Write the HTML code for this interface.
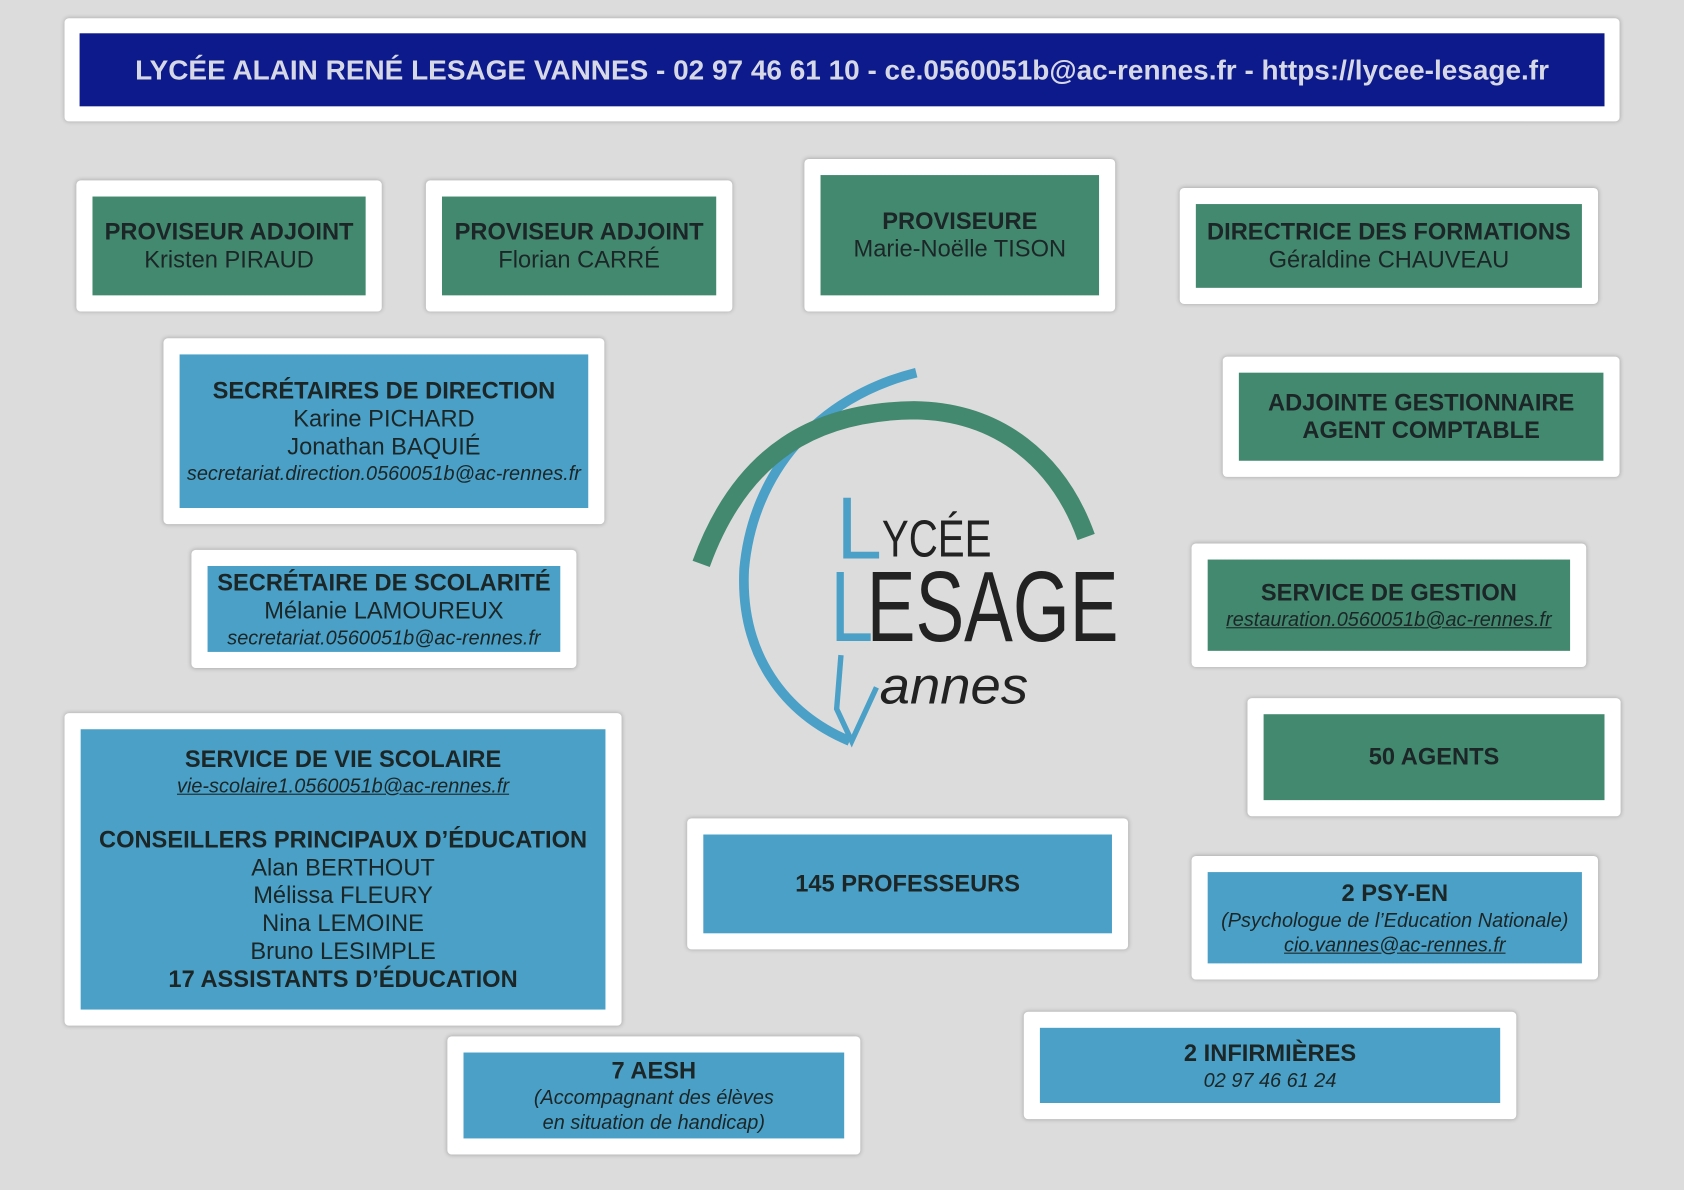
<!DOCTYPE html>
<html><head><meta charset="utf-8"><style>
html,body{margin:0;padding:0;background:#dcdcdc;width:1684px;height:1190px;overflow:hidden}
#w{position:absolute;left:0;top:0;width:1566px;height:1108px;transform:scale(1.0754,1.074);transform-origin:0 0;font-family:"Liberation Sans",Arial,sans-serif;color:#1c2626}
.o{position:absolute;background:#fff;border-radius:4px;box-shadow:0 0 4px rgba(0,0,0,.25)}
.i{position:absolute;left:15px;top:15px;right:15px;bottom:15px;display:flex;flex-direction:column;justify-content:center;align-items:center;text-align:center;font-size:22px;line-height:26px;white-space:nowrap}
.g{background:#42896f}.b{background:#4aa0c7}
b{font-weight:bold}
.e{font-style:italic;font-size:18.5px;line-height:23px}
.u{text-decoration:underline}
</style></head><body><div id="w">
<div class="o" style="left:60px;top:17px;width:1446px;height:96px"><div class="i" style="left:14px;top:14px;right:14px;bottom:14px;background:#0c1a8c;color:#d6d8e6;font-weight:bold;font-size:26px">LYCÉE ALAIN RENÉ LESAGE VANNES - 02 97 46 61 10 - ce.0560051b@ac-rennes.fr - https://lycee-lesage.fr</div></div>

<div class="o" style="left:71px;top:168px;width:284px;height:122px"><div class="i g"><b>PROVISEUR ADJOINT</b>Kristen PIRAUD</div></div>
<div class="o" style="left:396px;top:168px;width:285px;height:122px"><div class="i g"><b>PROVISEUR ADJOINT</b>Florian CARRÉ</div></div>
<div class="o" style="left:748px;top:148px;width:289px;height:142px"><div class="i g" style="justify-content:flex-start;padding-top:30px"><b>PROVISEURE</b>Marie-Noëlle TISON</div></div>
<div class="o" style="left:1097px;top:175px;width:389px;height:108px"><div class="i g"><b>DIRECTRICE DES FORMATIONS</b>Géraldine CHAUVEAU</div></div>

<div class="o" style="left:152px;top:315px;width:410px;height:173px"><div class="i b"><b>SECRÉTAIRES DE DIRECTION</b>Karine PICHARD<br>Jonathan BAQUIÉ<span class="e">secretariat.direction.0560051b@ac-rennes.fr</span></div></div>
<div class="o" style="left:1137px;top:332px;width:369px;height:112px"><div class="i g"><b>ADJOINTE GESTIONNAIRE<br>AGENT COMPTABLE</b></div></div>
<div class="o" style="left:178px;top:512px;width:358px;height:110px"><div class="i b"><b>SECRÉTAIRE DE SCOLARITÉ</b>Mélanie LAMOUREUX<span class="e">secretariat.0560051b@ac-rennes.fr</span></div></div>
<div class="o" style="left:1108px;top:506px;width:367px;height:115px"><div class="i g"><b>SERVICE DE GESTION</b><span class="e u">restauration.0560051b@ac-rennes.fr</span></div></div>

<div class="o" style="left:60px;top:664px;width:518px;height:291px"><div class="i b"><b>SERVICE DE VIE SCOLAIRE</b><span class="e u">vie-scolaire1.0560051b@ac-rennes.fr</span><br><b>CONSEILLERS PRINCIPAUX D’ÉDUCATION</b>Alan BERTHOUT<br>Mélissa FLEURY<br>Nina LEMOINE<br>Bruno LESIMPLE<br><b>17 ASSISTANTS D’ÉDUCATION</b></div></div>
<div class="o" style="left:1160px;top:650px;width:347px;height:110px"><div class="i g"><b>50 AGENTS</b></div></div>
<div class="o" style="left:639px;top:762px;width:410px;height:122px"><div class="i b"><b>145 PROFESSEURS</b></div></div>
<div class="o" style="left:1108px;top:797px;width:378px;height:115px"><div class="i b"><b>2 PSY-EN</b><span class="e">(Psychologue de l’Education Nationale)</span><span class="e u">cio.vannes@ac-rennes.fr</span></div></div>
<div class="o" style="left:952px;top:942px;width:458px;height:100px"><div class="i b"><b>2 INFIRMIÈRES</b><span class="e">02 97 46 61 24</span></div></div>
<div class="o" style="left:416px;top:965px;width:384px;height:110px"><div class="i b"><b>7 AESH</b><span class="e">(Accompagnant des élèves<br>en situation de handicap)</span></div></div>

<svg style="position:absolute;left:0;top:0" width="1566" height="1108">
<path d="M852,347 C760,370 700,440 692,530 C688,610 730,665 790,690" fill="none" stroke="#4aa0c7" stroke-width="9"/>
<path d="M652,525 C690,420 760,383 850,382 C930,383 985,430 1010,500" fill="none" stroke="#42896f" stroke-width="17"/>
<text x="778" y="520" font-size="82" fill="#4aa0c7" font-family="Liberation Sans" textLength="42" lengthAdjust="spacingAndGlyphs">L</text>
<text x="820" y="518" font-size="48" fill="#222" font-family="Liberation Sans" textLength="102" lengthAdjust="spacingAndGlyphs">YCÉE</text>
<text x="772" y="597" font-size="93" fill="#4aa0c7" font-family="Liberation Sans" textLength="40" lengthAdjust="spacingAndGlyphs">L</text>
<text x="806" y="597" font-size="93" fill="#222" font-family="Liberation Sans" textLength="234" lengthAdjust="spacingAndGlyphs">ESAGE</text>
<path d="M782,610 L778,660 L792,690 L815,640" fill="none" stroke="#4aa0c7" stroke-width="5"/>
<text x="818" y="655" font-size="48" font-style="italic" fill="#222" font-family="Liberation Sans" textLength="138" lengthAdjust="spacingAndGlyphs">annes</text>
</svg>
</div></body></html>
